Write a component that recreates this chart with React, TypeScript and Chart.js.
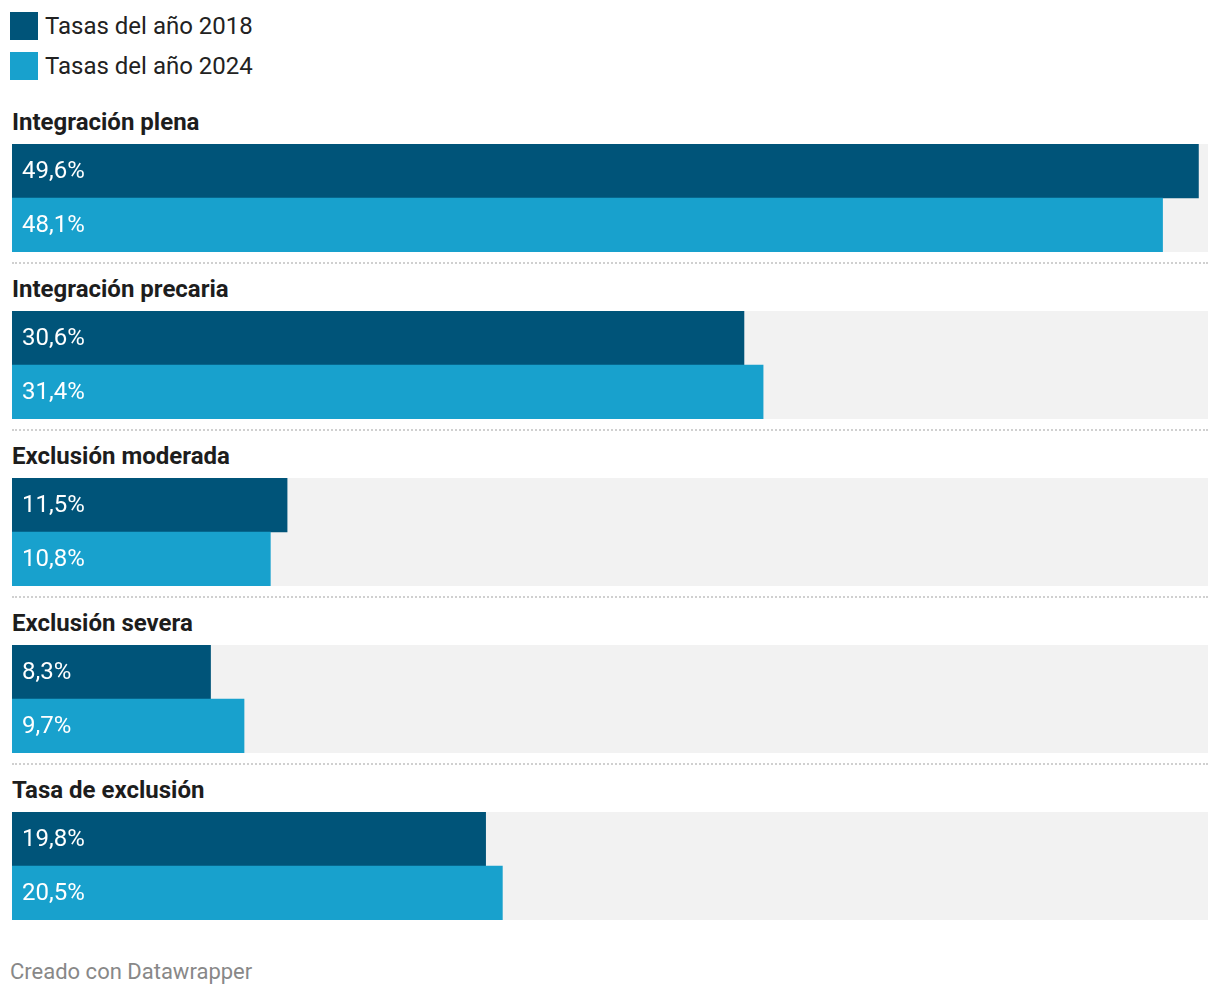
import React, { useEffect, useRef } from "react";
import { Chart, registerables } from "chart.js";

Chart.register(...registerables);

const categories = [
  "Integración plena",
  "Integración precaria",
  "Exclusión moderada",
  "Exclusión severa",
  "Tasa de exclusión",
];
const seriesNames = ["Tasas del año 2018", "Tasas del año 2024"];
const values2018 = [49.6, 30.6, 11.5, 8.3, 19.8];
const values2024 = [48.1, 31.4, 10.8, 9.7, 20.5];
const axisMax = 50;

const DARK = "#005479";
const LIGHT = "#18a1cd";
const BG = "#f2f2f2";
const FONT = "Roboto, 'Noto Sans', sans-serif";

const labelPlugin = {
  id: "valueLabels",
  afterDatasetsDraw(chart: any) {
    const ctx = chart.ctx;
    const meta = chart.getDatasetMeta(0);
    const ds = chart.data.datasets[0];
    const x0 = chart.scales.x.getPixelForValue(0);
    ctx.save();
    ctx.fillStyle = "#ffffff";
    ctx.font = `24px ${FONT}`;
    ctx.textBaseline = "middle";
    ctx.textAlign = "left";
    meta.data.forEach((el: any, i: number) => {
      const v = ds.data[i] as number;
      ctx.fillText(v.toFixed(1).replace(".", ",") + "%", x0 + 10, el.y + 1);
    });
    ctx.restore();
  },
};

function GroupChart({ idx }: { idx: number }) {
  const ref = useRef<HTMLCanvasElement | null>(null);
  useEffect(() => {
    if (!ref.current) return;
    const chart = new Chart(ref.current, {
      type: "bar",
      data: {
        labels: ["2018", "2024"],
        datasets: [
          {
            data: [values2018[idx], values2024[idx]],
            backgroundColor: [DARK, LIGHT],
            grouped: false,
            order: 0,
            categoryPercentage: 1,
            barPercentage: 1,
          } as any,
          {
            data: [axisMax, axisMax],
            backgroundColor: BG,
            grouped: false,
            order: 1,
            categoryPercentage: 1,
            barPercentage: 1,
          } as any,
        ],
      },
      options: {
        indexAxis: "y",
        animation: false,
        responsive: true,
        maintainAspectRatio: false,
        layout: { padding: 0 },
        plugins: { legend: { display: false }, tooltip: { enabled: false } },
        scales: {
          x: { display: false, min: 0, max: axisMax },
          y: { display: false },
        },
      },
      plugins: [labelPlugin],
    });
    return () => chart.destroy();
  }, [idx]);
  return (
    <div style={{ position: "relative", width: 1196, height: 108 }}>
      <canvas ref={ref} />
    </div>
  );
}

export default function App() {
  const colors = [DARK, LIGHT];
  return (
    <div style={{ fontFamily: FONT, width: 1204, color: "#1d1d1d" }}>
      <div style={{ paddingLeft: 2, paddingTop: 4 }}>
        {seriesNames.map((n, i) => (
          <div
            key={n}
            style={{
              display: "flex",
              alignItems: "center",
              height: 28,
              marginBottom: i === 0 ? 12 : 0,
            }}
          >
            <div style={{ width: 28, height: 28, background: colors[i] }} />
            <div style={{ marginLeft: 7, fontSize: 24, lineHeight: "28px", color: "#222" }}>{n}</div>
          </div>
        ))}
      </div>
      <div style={{ marginTop: 30, marginLeft: 4 }}>
        {categories.map((c, i) => (
          <div key={c}>
            <div
              style={{
                fontSize: 24,
                fontWeight: 700,
                lineHeight: "24px",
                height: 24,
                marginBottom: 10,
                color: "#1d1d1d",
              }}
            >
              {c}
            </div>
            <GroupChart idx={i} />
            {i < categories.length - 1 && (
              <div
                style={{
                  marginTop: 10,
                  borderTop: "2px dotted #d0d0d0",
                  width: 1196,
                  marginBottom: 13,
                }}
              />
            )}
          </div>
        ))}
      </div>
      <div style={{ marginTop: 40, marginLeft: 2, fontSize: 22, color: "#888", lineHeight: "24px" }}>
        Creado con Datawrapper
      </div>
    </div>
  );
}
